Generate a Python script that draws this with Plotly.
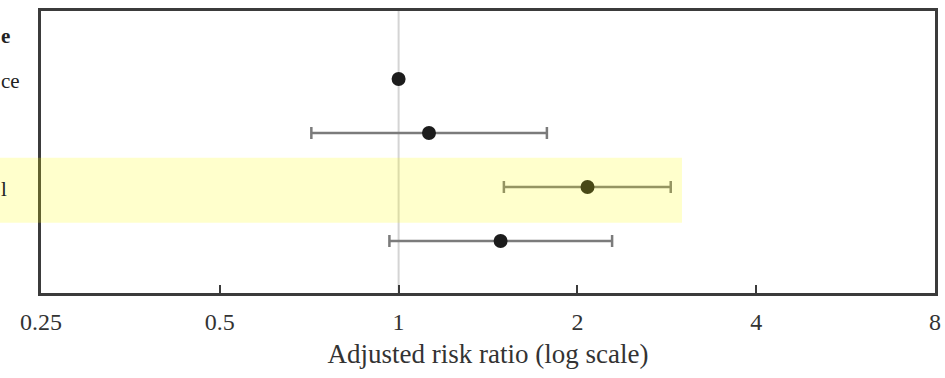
import math
import plotly.graph_objects as go

# Forest plot data: adjusted risk ratios with 95% confidence limits
rows = [0, 1, 2, 3]
estimate = [1.0, 1.125, 2.08, 1.485]
ci_low = [1.0, 0.713, 1.504, 0.965]
ci_high = [1.0, 1.777, 2.872, 2.288]

# Row label fragments visible in the left gutter
header_label = "e"
row_labels = ["ce", "", "l", ""]

tick_vals = [0.25, 0.5, 1, 2, 4, 8]
tick_text = ["0.25", "0.5", "1", "2", "4", "8"]

highlight_extent = (1.46, 2.66)   # row-index span of the highlight band
highlight_xmax = 3.0              # risk ratio where the band ends

FONT = "'Liberation Serif', 'Times New Roman', serif"
Y_RANGE = [3.963, -1.259]         # reversed: first row at top
MARGIN_L, MARGIN_R = 41, 4
PLOT_W = 945 - MARGIN_L - MARGIN_R

err_plus = [h - e for h, e in zip(ci_high, estimate)]
err_minus = [e - l for e, l in zip(estimate, ci_low)]

fig = go.Figure()

fig.add_trace(go.Scatter(
    x=estimate, y=rows, mode="markers",
    marker=dict(color="#1c1c1c", size=14, line=dict(width=0)),
    error_x=dict(type="data", symmetric=False, array=err_plus,
                 arrayminus=err_minus, color="#7b7b7b", thickness=2.5,
                 width=6),
    showlegend=False, hoverinfo="skip",
))


def ypaper(v):
    return (Y_RANGE[0] - v) / (Y_RANGE[0] - Y_RANGE[1])


def xpaper(v):
    lo, hi = math.log10(tick_vals[0]), math.log10(tick_vals[-1])
    return (math.log10(v) - lo) / (hi - lo)


# null-effect reference line at RR = 1
fig.add_shape(type="line", xref="x", yref="paper", x0=1, x1=1, y0=0, y1=1,
              line=dict(color="#d4d4d4", width=2), layer="below")

# translucent highlight over the emphasised row
fig.add_shape(type="rect", xref="paper", yref="paper",
              x0=-0.06, x1=xpaper(highlight_xmax),
              y0=ypaper(highlight_extent[1]), y1=ypaper(highlight_extent[0]),
              fillcolor="rgba(255,255,0,0.2)", line=dict(width=0),
              layer="above")

label_font = dict(family=FONT, size=21, color="#222")
label_x = -(MARGIN_L + 1) / PLOT_W
annotations = [dict(text="<b>" + header_label + "</b>", xref="paper",
                    yref="y", x=label_x, y=-0.8,
                    xanchor="left", yanchor="middle", showarrow=False,
                    font=label_font)]
for r, lab in zip(rows, row_labels):
    if lab:
        annotations.append(dict(
            text=lab, xref="paper", yref="y",
            x=label_x, y=r + 0.03,
            xanchor="left", yanchor="middle", showarrow=False,
            font=label_font))

fig.update_layout(
    width=945, height=378,
    margin=dict(l=MARGIN_L, r=MARGIN_R, t=11, b=85),
    paper_bgcolor="white", plot_bgcolor="white",
    font=dict(family=FONT, color="#333"),
    annotations=annotations,
    xaxis=dict(
        type="log", range=[math.log10(tick_vals[0]), math.log10(tick_vals[-1])],
        tickvals=tick_vals, ticktext=tick_text,
        ticks="inside", ticklen=8, tickwidth=2, tickcolor="#3b3b3b",
        tickfont=dict(family=FONT, size=24, color="#333"),
        showgrid=False, zeroline=False,
        showline=True, linewidth=2.5, linecolor="#3b3b3b", mirror=True,
        ticklabelstandoff=5,
        title=dict(text="Adjusted risk ratio (log scale)", standoff=11,
                   font=dict(family=FONT, size=27, color="#333")),
    ),
    yaxis=dict(
        range=Y_RANGE, showticklabels=False, ticks="",
        showgrid=False, zeroline=False,
        showline=True, linewidth=2.5, linecolor="#3b3b3b", mirror=True,
    ),
)

fig.write_html("out.html")
